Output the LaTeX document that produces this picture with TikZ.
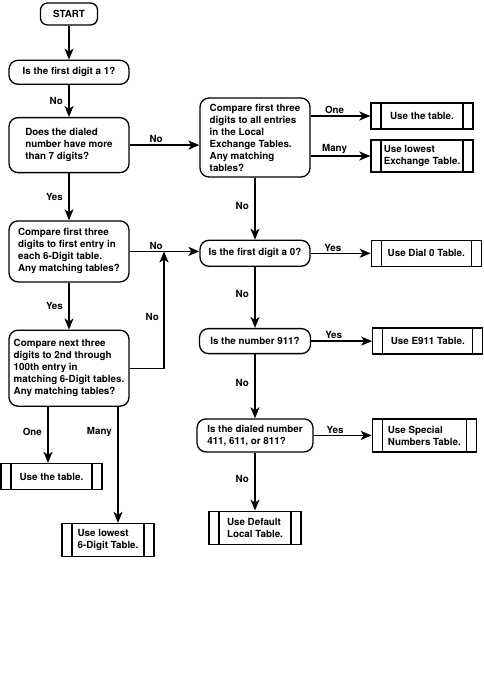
\documentclass[tikz,border=0pt]{standalone}
\usepackage{fontspec}
\setmainfont{TeX Gyre Heros}
\usetikzlibrary{shapes,arrows,arrows.meta,positioning}
\tikzstyle{term}=[rectangle,draw,rounded corners=7pt,line width=1.3pt,minimum width=57pt,minimum height=22pt,inner sep=2pt]
\tikzstyle{dec}=[rectangle,draw,rounded corners=9pt,line width=1.3pt,align=left,inner sep=3pt]
\tikzstyle{tbl}=[rectangle,draw,line width=1.3pt,align=left,inner sep=2pt,
  path picture={\draw[line width=1.3pt] ([xshift=10pt]path picture bounding box.north west) -- ([xshift=10pt]path picture bounding box.south west)
    ([xshift=-10pt]path picture bounding box.north east) -- ([xshift=-10pt]path picture bounding box.south east);}]
\tikzstyle{arr}=[-{Stealth[length=11pt,width=9pt,inset=3pt]},line width=1.3pt]
\tikzstyle{lbl}=[inner sep=1.5pt]

\begin{document}
\begin{tikzpicture}[x=1pt,y=1pt,every node/.style={font=\fontsize{9.8}{12}\selectfont\bfseries}]
\useasboundingbox (0,0) rectangle (483,-685);
% left column
\node (start) [term] at (69,-14) {START};
\node (q1) [dec, below=34pt of start, minimum width=120pt, minimum height=24pt] {Is the first digit a 1?};
\node (q2) [dec, below=32pt of q1, minimum width=120pt, minimum height=55pt] {Does the dialed\\number have more\\than 7 digits?};
\node (q3) [dec, below=47pt of q2, minimum width=120pt, minimum height=61pt] {Compare first three\\digits to first entry in\\each 6-Digit table.\\Any matching tables?};
\node (q4) [dec, below=47pt of q3, minimum width=120pt, minimum height=76pt] {Compare next three\\digits to 2nd through\\100th entry in\\matching 6-Digit tables.\\Any matching tables?};
\node (t1) [tbl, below=56pt of q4, xshift=-17.5pt, minimum width=101pt, minimum height=26pt] {Use the table.};
\node (t2) [tbl, below=116pt of q4, xshift=39pt, minimum width=92pt, minimum height=33pt] {Use lowest\\6-Digit Table.};
% right column
\node (r1) [dec, minimum width=110pt, minimum height=79pt] at (255,-137.5) {Compare first three\\digits to all entries\\in the Local\\Exchange Tables.\\Any matching\\tables?};
\node (r2) [dec, below=62pt of r1, minimum width=110pt, minimum height=26pt] {Is the first digit a 0?};
\node (r3) [dec, below=61pt of r2, minimum width=111pt, minimum height=25pt] {Is the number 911?};
\node (r4) [dec, below=64pt of r3, minimum width=116pt, minimum height=33pt] {Is the dialed number\\411, 611, or 811?};
\node (r5) [tbl, below=58pt of r4, minimum width=92pt, minimum height=33pt] {Use Default\\Local Table.};
\node (ta) [tbl, minimum width=102pt, minimum height=26pt] at (422,-116) {Use the table.};
\node (tb) [tbl, minimum width=102pt, minimum height=32pt] at (422,-156) {Use lowest\\Exchange Table.};
\node (d0) [tbl, right=60pt of r2, minimum width=110pt, minimum height=26pt] {Use Dial 0 Table.};
\node (e9) [tbl, right=61pt of r3, minimum width=110pt, minimum height=26pt] {Use E911 Table.};
\node (sp) [tbl, right=58pt of r4, minimum width=104pt, minimum height=33pt] {Use Special\\Numbers Table.};
\coordinate (merge) at (164,0 |- q3.east);
% connectors
\draw [arr] (start) -- (q1);
\draw [arr] (q1) -- node [lbl, left=4pt] {No} (q2);
\draw [arr] (q2) -- node [lbl, left=4pt] {Yes} (q3);
\draw [arr] (q3) -- node [lbl, left=4pt] {Yes} (q4);
\draw [arr] (q2.east) -- node [lbl, above, pos=0.38] {No} (q2.east -| r1.west);
\draw [arr] (q3.east) -- node [lbl, above, pos=0.38] {No} (q3.east -| r2.west);
\draw [arr] (q4.east) -| node [lbl, left=3pt, pos=0.72] {No} (merge);
\draw [arr] ([xshift=-21pt]q4.south) -- node [lbl, left=4pt, pos=0.45] {One} ([xshift=-21pt]q4.south |- t1.north);
\draw [arr] ([xshift=49pt]q4.south) -- node [lbl, left=4pt, pos=0.22] {Many} ([xshift=49pt]q4.south |- t2.north);
\draw [arr] (r1.east |- ta) -- node [lbl, above, pos=0.4] {One} (ta.west);
\draw [arr] (r1.east |- tb) -- node [lbl, above, pos=0.4] {Many} (tb.west);
\draw [arr] (r1) -- node [lbl, left=4pt, pos=0.45] {No} (r2);
\draw [arr] (r2) -- node [lbl, left=4pt, pos=0.45] {No} (r3);
\draw [arr] (r3) -- node [lbl, left=4pt, pos=0.45] {No} (r4);
\draw [arr] (r4) -- node [lbl, left=4pt, pos=0.45] {No} (r5);
\draw [arr] (r2.east) -- node [lbl, above, pos=0.37] {Yes} (r2.east -| d0.west);
\draw [arr] (r3.east) -- node [lbl, above, pos=0.37] {Yes} (r3.east -| e9.west);
\draw [arr] (r4.east) -- node [lbl, above, pos=0.37] {Yes} (r4.east -| sp.west);
\end{tikzpicture}
\end{document}
